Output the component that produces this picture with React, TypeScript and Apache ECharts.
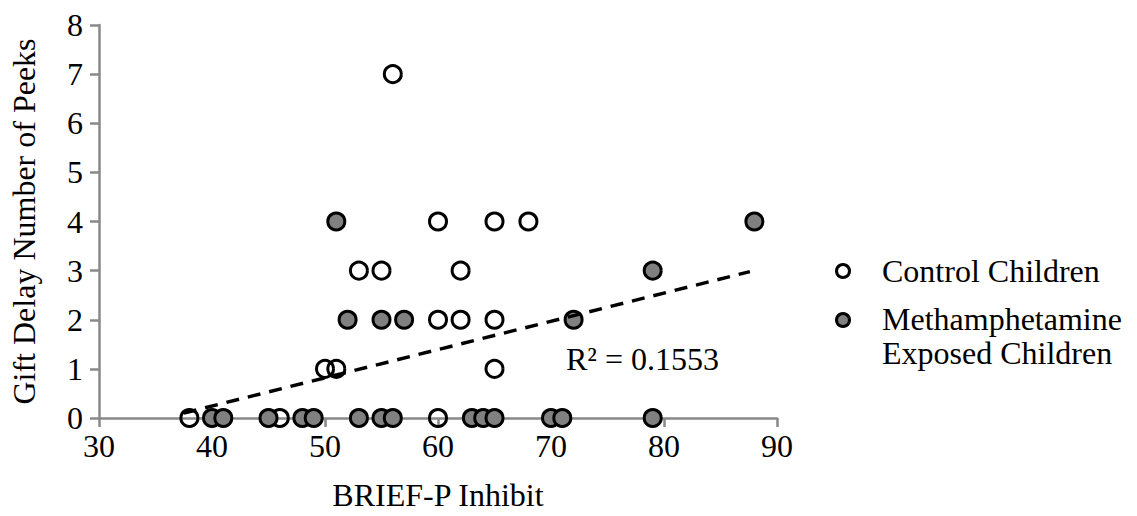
import React, { useEffect, useRef } from "react";
import * as echarts from "echarts";

// Data
const controlX = [38, 46, 60, 50, 51, 65, 60, 62, 65, 53, 55, 62, 60, 65, 68, 56];
const controlY = [0, 0, 0, 1, 1, 1, 2, 2, 2, 3, 3, 3, 4, 4, 4, 7];
const methX = [40, 41, 45, 48, 49, 53, 55, 56, 63, 64, 65, 70, 71, 79, 51, 52, 55, 57, 72, 79, 88];
const methY = [0, 0, 0, 0, 0, 0, 0, 0, 0, 0, 0, 0, 0, 0, 4, 2, 2, 2, 2, 3, 4];
const trendX = [37.5, 87.6];
const trendY = [0.1, 2.98];
const xTicks = { min: 30, max: 90, interval: 10 };
const yTicks = { min: 0, max: 8, interval: 1 };
const seriesNames = ["Control Children", "Methamphetamine Exposed Children"];
const legendLines = [["Control Children"], ["Methamphetamine", "Exposed Children"]];
const rSquaredLabel = "R² = 0.1553";
const xTitle = "BRIEF-P Inhibit";
const yTitle = "Gift Delay Number of Peeks";

const FONT = "'Liberation Serif', 'Times New Roman', serif";
const FS = 32;
const AXIS_GRAY = "#898989";

export default function App() {
  const ref = useRef<HTMLDivElement>(null);
  useEffect(() => {
    if (!ref.current) return;
    const chart = echarts.init(ref.current, undefined, { renderer: "svg" });
    const zip = (xs: number[], ys: number[]) => xs.map((x, i) => [x, ys[i]]);
    const axisCommon = {
      type: "value" as const,
      splitLine: { show: false },
      axisLine: { show: true, lineStyle: { color: AXIS_GRAY, width: 2.5 } },
      axisTick: { show: true, length: 9, lineStyle: { color: AXIS_GRAY, width: 2.5 } },
      axisLabel: { color: "#000", fontFamily: FONT, fontSize: FS },
      nameTextStyle: { color: "#000", fontFamily: FONT, fontSize: FS },
      nameLocation: "middle" as const,
    };
    const textStyle = (text: string) => ({
      text,
      font: `${FS}px ${FONT}`,
      fill: "#000",
      verticalAlign: "middle" as const,
    });
    chart.setOption({
      animation: false,
      grid: { left: 97, right: 360, top: 25, bottom: 96 },
      xAxis: {
        ...axisCommon,
        ...xTicks,
        name: xTitle,
        nameGap: 61,
        axisLabel: { ...axisCommon.axisLabel, margin: 12 },
      },
      yAxis: {
        ...axisCommon,
        ...yTicks,
        name: yTitle,
        nameGap: 59,
        axisLabel: { ...axisCommon.axisLabel, margin: 16 },
      },
      series: [
        {
          type: "scatter",
          name: seriesNames[0],
          data: zip(controlX, controlY),
          symbol: "circle",
          symbolSize: 17,
          itemStyle: { color: "rgba(0,0,0,0)", borderColor: "#000", borderWidth: 3, opacity: 1 },
          z: 2,
        },
        {
          type: "scatter",
          name: seriesNames[1],
          data: zip(methX, methY),
          symbol: "circle",
          symbolSize: 17,
          itemStyle: { color: "#808080", borderColor: "#000", borderWidth: 3, opacity: 1 },
          z: 3,
        },
        {
          type: "line",
          name: "trend",
          data: zip(trendX, trendY),
          showSymbol: false,
          symbol: "none",
          lineStyle: { color: "#000", width: 3.5, type: [13, 9] },
          z: 4,
          silent: true,
        },
      ],
      graphic: [
        { type: "text", x: 566, y: 359, style: textStyle(rSquaredLabel) },
        {
          type: "circle",
          shape: { cx: 843, cy: 271, r: 6.5 },
          style: { fill: "#fff", stroke: "#000", lineWidth: 3 },
        },
        { type: "text", x: 882, y: 271, style: textStyle(legendLines[0][0]) },
        {
          type: "circle",
          shape: { cx: 843, cy: 320, r: 6.5 },
          style: { fill: "#808080", stroke: "#000", lineWidth: 3 },
        },
        { type: "text", x: 882, y: 319, style: textStyle(legendLines[1][0]) },
        { type: "text", x: 882, y: 353, style: textStyle(legendLines[1][1]) },
      ],
    });
    return () => chart.dispose();
  }, []);
  return (
    <div
      ref={ref}
      style={{ position: "fixed", left: 0, top: 0, width: 1137, height: 516, background: "#fff" }}
    />
  );
}
